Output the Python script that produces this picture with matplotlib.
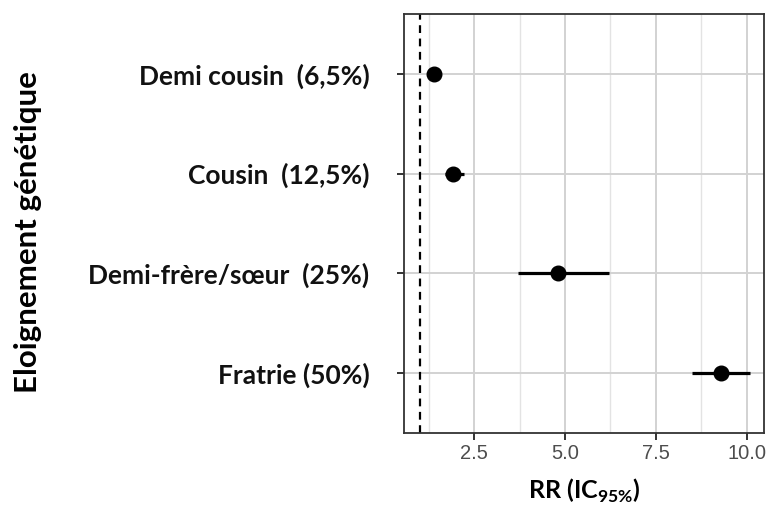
import matplotlib
matplotlib.use("Agg")
import matplotlib.pyplot as plt
import numpy as np

plt.rcParams["mathtext.fontset"] = "custom"
plt.rcParams["mathtext.rm"] = "Lato"
plt.rcParams["mathtext.bf"] = "Lato:bold"

categories = ["Demi cousin  (6,5%)", "Cousin  (12,5%)", "Demi-frère/sœur  (25%)", "Fratrie (50%)"]
rr = [1.40, 1.92, 4.81, 9.29]
ci_low = [1.30, 1.70, 3.71, 8.50]
ci_high = [1.50, 2.20, 6.21, 10.10]
xticks = [2.5, 5.0, 7.5, 10.0]
xticklabels = ["2.5", "5.0", "7.5", "10.0"]

fig = plt.figure(figsize=(7.68, 5.09), dpi=100)
ax = fig.add_axes([404/768, 1 - 433/509, 360/768, 419/509])

ypos = np.arange(len(categories))[::-1] + 1  # top category highest

ax.set_xlim(0.56, 10.48)
ax.set_ylim(0.4, 4.6)

# grid
minor = [1.25, 3.75, 6.25, 8.75]
for m in minor:
    ax.axvline(m, color="#e3e3e3", lw=1.0, zorder=0)
for t in xticks:
    ax.axvline(t, color="#d2d2d2", lw=1.4, zorder=0)
for y in ypos:
    ax.axhline(y, color="#d2d2d2", lw=1.4, zorder=0)

ax.axvline(1.0, color="black", lw=1.6, ls=(0, (3.5, 2.5)), zorder=2)

for y, r, lo, hi in zip(ypos, rr, ci_low, ci_high):
    ax.plot([lo, hi], [y, y], color="black", lw=2.3, solid_capstyle="butt", zorder=3)
    ax.plot(r, y, "o", color="black", markersize=10.5, zorder=4)

ax.set_xticks(xticks)
ax.set_xticklabels(xticklabels, fontsize=14.5, color="#4d4d4d", family="Liberation Sans")
ax.set_yticks(ypos)
ax.set_yticklabels(categories, fontsize=19, fontweight="bold", family="Lato", color="#111111")
ax.tick_params(axis="x", length=5, width=1.4, color="#333333", pad=3)
ax.tick_params(axis="y", length=5, width=1.4, color="#333333", pad=20)

for s in ax.spines.values():
    s.set_color("#333333")
    s.set_linewidth(1.3)

ax.set_xlabel("RR (IC$_{\\mathbf{95\\%}}$)", fontsize=18, fontweight="bold", family="Lato", labelpad=10)
fig.text(28/768, 1 - 232/509, "Eloignement génétique", rotation=90, ha="center", va="center",
         fontsize=22.5, fontweight="bold", family="Lato")

fig.savefig("out.png", dpi=100)
